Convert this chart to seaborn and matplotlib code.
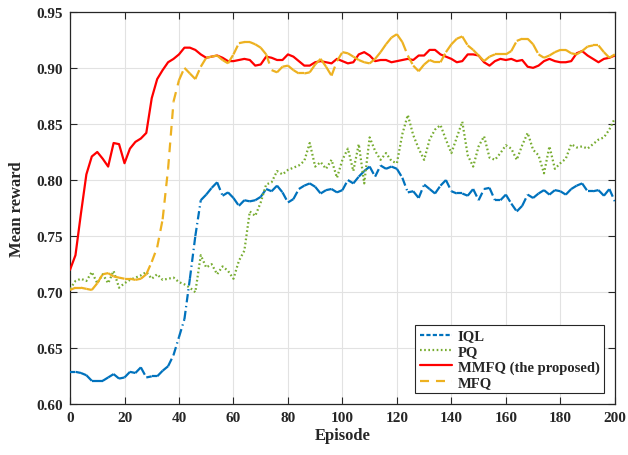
import numpy as np
import pandas as pd
import seaborn as sns
import matplotlib.pyplot as plt
from matplotlib.collections import LineCollection
from matplotlib.lines import Line2D

# episodes sampled every 2 steps
episodes = list(range(0, 201, 2))

iql = [0.629, 0.629, 0.628, 0.626, 0.621, 0.621, 0.621, 0.624, 0.627, 0.623,
       0.624, 0.629, 0.628, 0.633, 0.624, 0.625, 0.625, 0.630, 0.634, 0.644,
       0.660, 0.676, 0.712, 0.750, 0.782, 0.787, 0.793, 0.798, 0.786, 0.789,
       0.784, 0.777, 0.782, 0.781, 0.782, 0.785, 0.792, 0.790, 0.795, 0.789,
       0.780, 0.783, 0.792, 0.795, 0.797, 0.794, 0.788, 0.791, 0.792, 0.789,
       0.791, 0.800, 0.797, 0.803, 0.808, 0.812, 0.803, 0.813, 0.810, 0.812,
       0.810, 0.802, 0.789, 0.790, 0.784, 0.796, 0.792, 0.788, 0.795, 0.800,
       0.790, 0.788, 0.788, 0.786, 0.792, 0.782, 0.792, 0.793, 0.782, 0.782,
       0.787, 0.779, 0.772, 0.777, 0.787, 0.784, 0.788, 0.791, 0.787, 0.791,
       0.790, 0.787, 0.792, 0.795, 0.797, 0.790, 0.790, 0.791, 0.786, 0.792,
       0.781]

pq = [0.703, 0.710, 0.712, 0.710, 0.718, 0.708, 0.716, 0.708, 0.719, 0.704,
      0.708, 0.711, 0.713, 0.715, 0.718, 0.712, 0.716, 0.711, 0.712, 0.713,
      0.709, 0.707, 0.704, 0.700, 0.733, 0.722, 0.725, 0.716, 0.723, 0.719,
      0.712, 0.728, 0.737, 0.772, 0.768, 0.780, 0.796, 0.798, 0.808, 0.805,
      0.809, 0.811, 0.813, 0.817, 0.833, 0.812, 0.816, 0.810, 0.818, 0.802,
      0.818, 0.828, 0.808, 0.832, 0.797, 0.838, 0.826, 0.818, 0.824, 0.817,
      0.815, 0.841, 0.858, 0.840, 0.828, 0.818, 0.836, 0.845, 0.849, 0.836,
      0.824, 0.838, 0.852, 0.822, 0.812, 0.830, 0.839, 0.820, 0.818, 0.824,
      0.831, 0.828, 0.818, 0.831, 0.842, 0.827, 0.822, 0.806, 0.830, 0.810,
      0.815, 0.819, 0.832, 0.829, 0.830, 0.828, 0.832, 0.836, 0.838, 0.845,
      0.855]

mmfq = [0.720, 0.733, 0.770, 0.805, 0.821, 0.825, 0.819, 0.812, 0.833, 0.832,
        0.815, 0.828, 0.834, 0.837, 0.842, 0.873, 0.890, 0.898, 0.905, 0.908,
        0.912, 0.918, 0.918, 0.916, 0.912, 0.909, 0.910, 0.911, 0.909, 0.906,
        0.906, 0.907, 0.908, 0.907, 0.902, 0.903, 0.910, 0.909, 0.907, 0.907,
        0.912, 0.910, 0.906, 0.902, 0.902, 0.905, 0.906, 0.905, 0.904, 0.908,
        0.906, 0.904, 0.905, 0.912, 0.914, 0.911, 0.906, 0.907, 0.907, 0.905,
        0.906, 0.907, 0.908, 0.907, 0.911, 0.911, 0.916, 0.916, 0.912, 0.910,
        0.908, 0.905, 0.906, 0.912, 0.912, 0.911, 0.905, 0.902, 0.906, 0.908,
        0.907, 0.908, 0.906, 0.907, 0.901, 0.900, 0.902, 0.906, 0.908, 0.906,
        0.905, 0.905, 0.906, 0.913, 0.915, 0.911, 0.908, 0.905, 0.908, 0.909,
        0.911]

mfq = [0.702, 0.704, 0.704, 0.703, 0.702, 0.708, 0.716, 0.717, 0.714, 0.713,
       0.712, 0.712, 0.711, 0.712, 0.716, 0.727, 0.740, 0.765, 0.810, 0.870,
       0.889, 0.900, 0.895, 0.890, 0.901, 0.909, 0.910, 0.911, 0.907, 0.904,
       0.912, 0.922, 0.923, 0.923, 0.921, 0.918, 0.912, 0.898, 0.896, 0.901,
       0.902, 0.898, 0.895, 0.895, 0.896, 0.903, 0.908, 0.901, 0.893, 0.906,
       0.914, 0.913, 0.910, 0.907, 0.905, 0.904, 0.908, 0.914, 0.921, 0.927,
       0.930, 0.923, 0.911, 0.902, 0.897, 0.903, 0.907, 0.905, 0.905, 0.914,
       0.921, 0.926, 0.928, 0.920, 0.916, 0.911, 0.906, 0.910, 0.912, 0.912,
       0.912, 0.915, 0.924, 0.926, 0.926, 0.921, 0.912, 0.909, 0.911, 0.914,
       0.916, 0.916, 0.913, 0.912, 0.915, 0.919, 0.920, 0.920, 0.914, 0.909,
       0.912]

labels = ['IQL', 'PQ', 'MMFQ (the proposed)', 'MFQ']
colors = ['#0072BD', '#77AC30', '#FF0000', '#EDB120']

sns.set_theme(style="whitegrid")
plt.rcParams['font.family'] = ['Liberation Serif', 'DejaVu Serif']
plt.rcParams['font.weight'] = 'bold'
plt.rcParams['lines.scale_dashes'] = False

df = pd.DataFrame({'Episode': episodes, 'IQL': iql, 'PQ': pq,
                   'MMFQ': mmfq, 'MFQ': mfq})

fig, ax = plt.subplots(figsize=(6.28, 4.56), dpi=100)
fig.subplots_adjust(left=0.1115, right=0.979, bottom=0.111, top=0.972)

iql_dash = (0, (6.0, 2.6, 1.0, 2.6))
pq_dash = (0, (1.2, 1.8))
mfq_dash = (0, (7.0, 5.0))


# dash pattern restarts on every segment, so dense wiggles look solid
def segment_line(x, y, color, ls, z):
    pts = np.column_stack([x, y])
    segs = np.stack([pts[:-1], pts[1:]], axis=1)
    lc = LineCollection(segs, colors=color, linewidths=1.6, linestyles=[ls],
                        capstyle='butt', joinstyle='round', zorder=z)
    ax.add_collection(lc)


segment_line(df['Episode'], df['IQL'], colors[0], iql_dash, 3)
sns.lineplot(data=df, x='Episode', y='PQ', color=colors[1], linestyle=pq_dash,
             lw=1.6, ax=ax, zorder=4)
sns.lineplot(data=df, x='Episode', y='MMFQ', color=colors[2], lw=1.6, ax=ax, zorder=5)
segment_line(df['Episode'], df['MFQ'], colors[3], mfq_dash, 6)

ax.set_xlim(0, 200)
ax.set_ylim(0.60, 0.95)
ax.set_xticks(range(0, 201, 20))
ax.set_yticks(np.arange(0.60, 0.951, 0.05))
ax.set_yticklabels([f'{v:.2f}' for v in np.arange(0.60, 0.951, 0.05)])

ax.grid(True, color='#e2e2e2', lw=0.8)
for s in ax.spines.values():
    s.set_color('#262626')
    s.set_linewidth(0.9)
ax.tick_params(direction='in', length=5, width=0.8, top=True, right=True,
               bottom=True, left=True, labelsize=11, colors='#262626',
               pad=5)

ax.set_xlabel('Episode', fontsize=12, fontweight='bold', labelpad=2)
ax.set_ylabel('Mean reward', fontsize=12, fontweight='bold', labelpad=8)

handles = [Line2D([], [], color=colors[0], lw=1.6, linestyle=(0, (3.0, 1.6))),
           Line2D([], [], color=colors[1], lw=1.6, linestyle=pq_dash),
           Line2D([], [], color=colors[2], lw=1.6),
           Line2D([], [], color=colors[3], lw=1.6, linestyle=(0, (6.5, 5.0)))]
leg = ax.legend(handles, labels, loc='lower right', fancybox=False,
                framealpha=1, edgecolor='#262626', borderaxespad=0.75,
                handlelength=2.2, handletextpad=0.4, labelspacing=0.15,
                borderpad=0.3, prop={'weight': 'bold', 'size': 10.5})
leg.get_frame().set_linewidth(0.8)

plt.savefig('out.png', dpi=100)
